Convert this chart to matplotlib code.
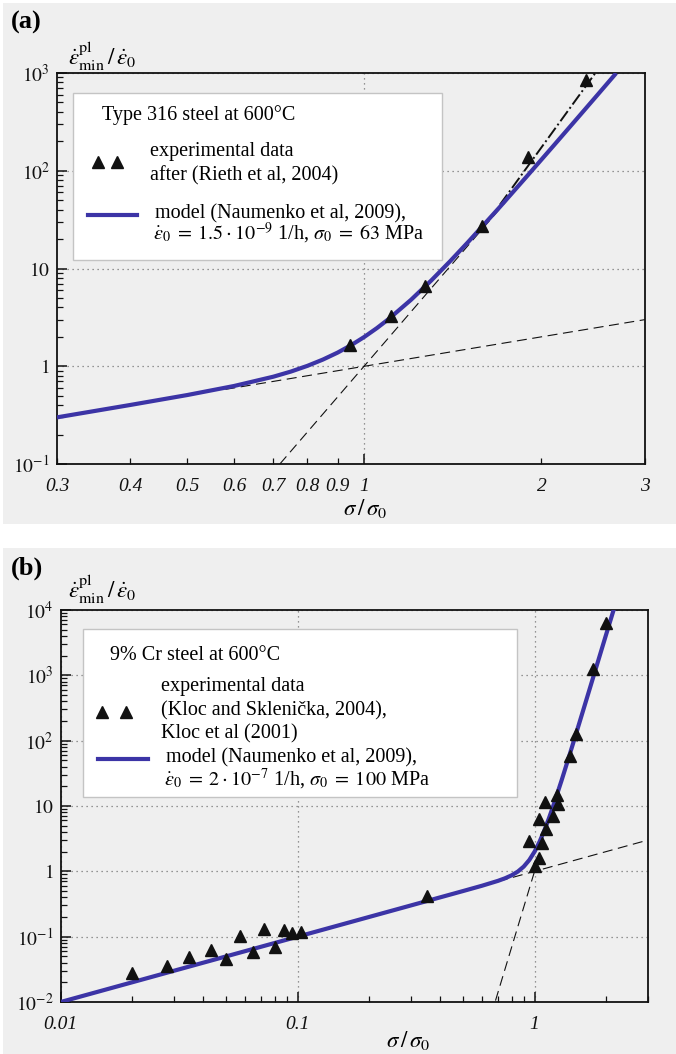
import numpy as np
import matplotlib
matplotlib.use('Agg')
import matplotlib.pyplot as plt
from matplotlib.patches import Rectangle
from matplotlib.lines import Line2D
from matplotlib.ticker import LogLocator, NullFormatter

plt.rcParams['font.family'] = ['Liberation Serif', 'DejaVu Serif']
plt.rcParams['mathtext.fontset'] = 'stix'

### (a) Type 316 steel at 600 C
a_exp_stress = [0.945, 1.11, 1.269, 1.586, 1.90, 2.38]
a_exp_rate = [1.65, 3.3, 6.7, 27.3, 139, 841]

a_model_stress = [0.3, 0.4, 0.5, 0.6, 0.7, 0.75, 0.8, 0.85, 0.9, 0.95, 1.0,
                  1.05, 1.1, 1.2, 1.3, 1.4, 1.5, 1.7, 1.9, 2.1, 2.3, 2.5, 2.68]
a_model_rate = [0.300, 0.402, 0.508, 0.628, 0.782, 0.883, 1.010, 1.171, 1.378,
                1.648, 2.0, 2.457, 3.049, 4.783, 7.575, 11.94, 18.59, 42.73,
                91.29, 182.2, 342.8, 612.9, 997]

# asymptotes (two end points each, straight in log-log)
a_low_stress, a_low_rate = [0.58, 3.0], [0.58, 3.0]
a_steep_stress, a_steep_rate = [0.718, 1.75], [0.1, 50.3]
a_fit_stress, a_fit_rate = [1.7, 2.47], [45, 1000]

### (b) 9% Cr steel at 600 C
b_exp_stress = [0.020, 0.028, 0.0349, 0.043, 0.0498, 0.0571, 0.065, 0.0719,
                0.080, 0.0875, 0.0946, 0.1032, 0.35, 1.0, 1.04, 0.949, 1.08,
                1.113, 1.046, 1.198, 1.105, 1.25, 1.246, 1.41, 1.50, 1.757, 2.01]
b_exp_rate = [0.0275, 0.0356, 0.0483, 0.0625, 0.0451, 0.1025, 0.0577, 0.130,
              0.0703, 0.127, 0.113, 0.119, 0.425, 1.21, 1.59, 2.92, 2.69,
              4.41, 6.3, 7.13, 11.4, 10.8, 14.6, 58.5, 127, 1245, 6300]

b_model_stress = [0.01, 0.1, 0.3, 0.5, 0.6, 0.7, 0.75, 0.8, 0.85, 0.9, 0.95,
                  1.0, 1.05, 1.1, 1.15, 1.2, 1.3, 1.4, 1.5, 1.6, 1.7, 1.8,
                  1.9, 2.0, 2.16]
b_model_rate = [0.01, 0.1, 0.3, 0.5002, 0.602, 0.714, 0.782, 0.869, 0.992,
                1.182, 1.490, 2.0, 2.846, 4.238, 6.50, 10.12, 24.6, 58.1,
                131.2, 283.1, 584.3, 1159, 2215, 4098, 10250]

b_low_stress, b_low_rate = [0.7, 3.02], [0.7, 3.02]
b_steep_stress, b_steep_rate = [0.684, 1.05], [0.0105, 1.8]

a_xticks_minor = [0.3, 0.4, 0.5, 0.6, 0.7, 0.8, 0.9, 2, 3]
a_xlabels_minor = ['0.3', '0.4', '0.5', '0.6', '0.7', '0.8', '0.9', '2', '3']
a_yticks = [0.1, 1, 10, 100, 1000]
a_ylabels = [r'$\mathit{10}^{\mathit{-1}}$', r'$\mathit{1}$', r'$\mathit{10}$',
             r'$\mathit{10}^{\mathit{2}}$', r'$\mathit{10}^{\mathit{3}}$']
b_xticks = [0.01, 0.1, 1]
b_xlabels = ['0.01', '0.1', '1']
b_yticks = [0.01, 0.1, 1, 10, 100, 1000, 10000]
b_ylabels = [r'$\mathit{10}^{\mathit{-2}}$', r'$\mathit{10}^{\mathit{-1}}$',
             r'$\mathit{1}$', r'$\mathit{10}$', r'$\mathit{10}^{\mathit{2}}$',
             r'$\mathit{10}^{\mathit{3}}$', r'$\mathit{10}^{\mathit{4}}$']

blue = '#3c34a6'
ink = '#111111'
W, H = 676, 1054
tfs = 14


def fx(px):
    return px / W


def fy(py):
    return 1 - py / H


fig = plt.figure(figsize=(W / 100, H / 100), dpi=100)
fig.patch.set_facecolor('white')

# light gray panels behind each plot
for top, bot in [(3, 524), (548, 1054)]:
    fig.add_artist(Rectangle((fx(3), fy(bot)), 1 - fx(3), (bot - top) / H,
                             transform=fig.transFigure, facecolor='#efefef',
                             edgecolor='none', zorder=-5))

axA = fig.add_axes([fx(57), fy(464), (645 - 57) / W, (464 - 73) / H])
axB = fig.add_axes([fx(60.7), fy(1002), (648.3 - 60.7) / W, (1002 - 610) / H])


def style(ax):
    ax.set_facecolor('none')
    ax.set_xscale('log')
    ax.set_yscale('log')
    for s in ax.spines.values():
        s.set_linewidth(1.3)
        s.set_color(ink)
    ax.tick_params(which='both', direction='in', top=False, right=False, colors=ink)
    ax.tick_params(which='major', length=7, width=1.1)
    ax.tick_params(which='minor', length=4, width=0.9)
    ax.tick_params(axis='x', which='both', pad=10)
    ax.tick_params(axis='y', which='both', pad=5)
    ax.yaxis.set_minor_locator(LogLocator(base=10, subs=np.arange(2, 10), numticks=100))
    ax.yaxis.set_minor_formatter(NullFormatter())
    ax.grid(which='major', linestyle=(0, (1, 3)), color='#777777', lw=0.9)


style(axA)
style(axB)

# panel (a)
axA.plot(a_low_stress, a_low_rate, color=ink, lw=0.8, dashes=(9, 5), zorder=2)
axA.plot(a_steep_stress, a_steep_rate, color=ink, lw=0.8, dashes=(9, 5), zorder=2)
axA.plot(a_fit_stress, a_fit_rate, color=ink, lw=1.4, ls='-.', zorder=2)
axA.plot(a_model_stress, a_model_rate, color=blue, lw=3, zorder=3,
         solid_capstyle='butt')
axA.plot(a_exp_stress, a_exp_rate, ls='none', marker='^', ms=8.5, color=ink, zorder=4)
axA.set_xlim(0.3, 3)
axA.set_ylim(0.1, 1000)
axA.set_xticks([1], ['1'], fontstyle='italic', fontsize=tfs)
axA.set_xticks(a_xticks_minor, a_xlabels_minor, minor=True, fontstyle='italic', fontsize=tfs)
axA.set_yticks(a_yticks, a_ylabels, fontsize=tfs)

# panel (b)
axB.plot(b_low_stress, b_low_rate, color=ink, lw=0.8, dashes=(9, 5), zorder=2)
axB.plot(b_steep_stress, b_steep_rate, color=ink, lw=0.8, dashes=(9, 5), zorder=2)
axB.plot(b_model_stress, b_model_rate, color=blue, lw=3, zorder=3,
         solid_capstyle='butt')
axB.plot(b_exp_stress, b_exp_rate, ls='none', marker='^', ms=8.5, color=ink, zorder=4)
axB.set_xlim(0.01, 3.02)
axB.set_ylim(0.01, 10000)
axB.set_xticks(b_xticks, b_xlabels, fontstyle='italic', fontsize=tfs)
axB.xaxis.set_minor_locator(LogLocator(base=10, subs=np.arange(2, 10), numticks=100))
axB.xaxis.set_minor_formatter(NullFormatter())
axB.set_yticks(b_yticks, b_ylabels, fontsize=tfs)

# axis titles and panel letters
ylab = r'$\dot{\varepsilon}^{\mathrm{pl}}_{\mathrm{min}}\,/\,\dot{\varepsilon}_{0}$'
xlab = r'$\sigma\,/\,\sigma_0$'
fig.text(fx(68), fy(65), ylab, fontsize=16.5, va='baseline')
fig.text(fx(68), fy(598), ylab, fontsize=16.5, va='baseline')
fig.text(fx(365), fy(508), xlab, fontsize=16.5, ha='center', va='center')
fig.text(fx(408), fy(1040), xlab, fontsize=16.5, ha='center', va='center')
fig.text(fx(11), fy(29), '(a)', fontsize=19, fontweight='bold', va='baseline')
fig.text(fx(11), fy(575), '(b)', fontsize=19, fontweight='bold', va='baseline')

# legend boxes
fs = 14.5
fig.add_artist(Rectangle((fx(73), fy(260)), (442 - 73) / W, (260 - 93) / H,
                         transform=fig.transFigure, facecolor='white',
                         edgecolor='#c4c4c4', lw=1, zorder=5))
fig.text(fx(102), fy(120), 'Type 316 steel at 600°C', fontsize=fs, va='baseline', zorder=6)
fig.text(fx(150), fy(156), 'experimental data', fontsize=fs, va='baseline', zorder=6)
fig.text(fx(150), fy(180), 'after (Rieth et al, 2004)', fontsize=fs, va='baseline', zorder=6)
fig.text(fx(155), fy(218), 'model (Naumenko et al, 2009),', fontsize=fs, va='baseline', zorder=6)
fig.text(fx(153), fy(240),
         r'$\dot{\varepsilon}_0\; = \;1.5\cdot10^{-9}$ 1/h, $\sigma_0\; = \;63$ MPa',
         fontsize=fs, va='baseline', zorder=6)
fig.add_artist(Line2D([fx(98), fx(117)], [fy(162), fy(162)], transform=fig.transFigure,
                      ls='none', marker='^', ms=8, color=ink, zorder=6))
fig.add_artist(Line2D([fx(88), fx(137)], [fy(215), fy(215)], transform=fig.transFigure,
                      color=blue, lw=3, zorder=6))

fig.add_artist(Rectangle((fx(83), fy(797)), (517 - 83) / W, (797 - 629) / H,
                         transform=fig.transFigure, facecolor='white',
                         edgecolor='#c4c4c4', lw=1, zorder=5))
fig.text(fx(110), fy(660), '9% Cr steel at 600°C', fontsize=fs, va='baseline', zorder=6)
fig.text(fx(161), fy(691), 'experimental data', fontsize=fs, va='baseline', zorder=6)
fig.text(fx(161), fy(715), '(Kloc and Sklenička, 2004),', fontsize=fs, va='baseline', zorder=6)
fig.text(fx(161), fy(738), 'Kloc et al (2001)', fontsize=fs, va='baseline', zorder=6)
fig.text(fx(166), fy(762), 'model (Naumenko et al, 2009),', fontsize=fs, va='baseline', zorder=6)
fig.text(fx(164), fy(786),
         r'$\dot{\varepsilon}_0\; = \;2\cdot10^{-7}$ 1/h, $\sigma_0\; = \;100$ MPa',
         fontsize=fs, va='baseline', zorder=6)
fig.add_artist(Line2D([fx(102), fx(126)], [fy(712), fy(712)], transform=fig.transFigure,
                      ls='none', marker='^', ms=8, color=ink, zorder=6))
fig.add_artist(Line2D([fx(98), fx(148)], [fy(759), fy(759)], transform=fig.transFigure,
                      color=blue, lw=3, zorder=6))

fig.savefig('out.png', dpi=100)
